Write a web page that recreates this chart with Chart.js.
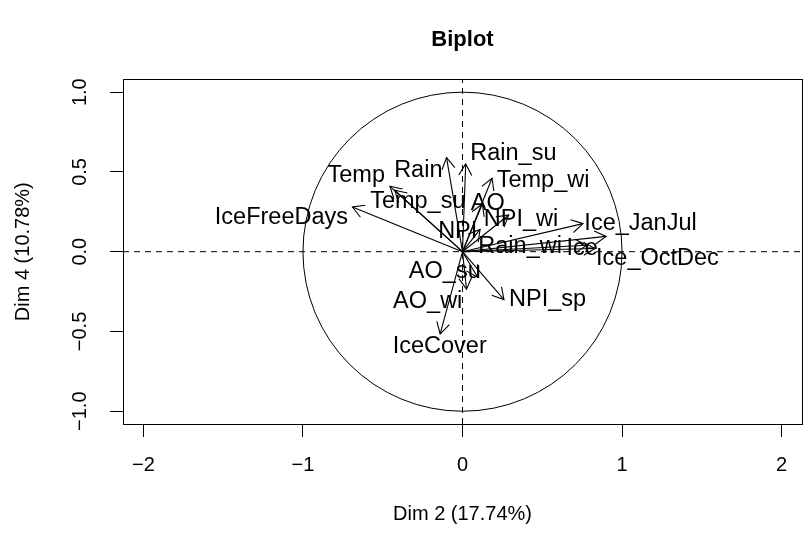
<!DOCTYPE html>
<html><head><meta charset="utf-8">
<script src="https://cdn.jsdelivr.net/npm/chart.js@4/dist/chart.umd.min.js"></script>
<style>html,body{margin:0;padding:0;background:#fff}#wrap{width:804px;height:542px}</style>
</head><body><div id="wrap"><canvas id="c" width="804" height="542"></canvas></div>
<script>
// ---- data ----
const varNames = ['IceFreeDays','Temp','Rain','Temp_su','Rain_su','Temp_wi','AO','NPI_wi','NPI',
  'Ice_JanJul','Rain_wi','Ice','Ice_OctDec','AO_su','AO_wi','NPI_sp','IceCover'];
const dim2 = [-0.69,-0.455,-0.10,-0.425,0.02,0.185,0.125,0.29,0.11,0.755,0.78,0.83,0.90,0.095,0.025,0.26,-0.14];
const dim4 = [0.28,0.41,0.59,0.385,0.55,0.46,0.30,0.23,0.14,0.176,0.04,0.02,0.096,-0.16,-0.235,-0.30,-0.515];
const labelX = [-1.135,-0.666,-0.277,-0.28,0.319,0.505,0.158,0.367,-0.03,1.116,0.361,0.75,1.222,-0.111,-0.218,0.533,-0.143];
const labelY = [0.221,0.485,0.516,0.322,0.625,0.458,0.311,0.213,0.134,0.186,0.04,0.027,-0.034,-0.117,-0.305,-0.293,-0.588];
const xTicks = [-2,-1,0,1,2];
const xTickLabels = ['\u22122','\u22121','0','1','2'];
const yTicks = [-1,-0.5,0,0.5,1];
const yTickLabels = ['\u22121.0','\u22120.5','0.0','0.5','1.0'];
const xLimits = [-2.128, 2.128];
const yLimits = [-1.08, 1.08];
const titleText = 'Biplot';
const xTitle = 'Dim 2 (17.74%)';
const yTitle = 'Dim 4 (10.78%)';

const FAM = '"Liberation Sans", Arial, Helvetica, sans-serif';

const datasets = [];
datasets.push({data:[{x:xLimits[0],y:0},{x:xLimits[1],y:0}], borderColor:'#000', borderWidth:1, borderDash:[6,5], pointRadius:0});
datasets.push({data:[{x:0,y:yLimits[0]},{x:0,y:yLimits[1]}], borderColor:'#000', borderWidth:1, borderDash:[6,5], pointRadius:0});
varNames.forEach((n,i)=>{
  datasets.push({label:n, isArrow:true, data:[{x:0,y:0},{x:dim2[i],y:dim4[i]}], borderColor:'#000', borderWidth:1.1, pointRadius:0});
});

const deco = {
  id:'deco',
  afterDatasetsDraw(chart){
    const ctx = chart.ctx, xs = chart.scales.x, ys = chart.scales.y, ca = chart.chartArea;
    ctx.save();
    ctx.strokeStyle = '#000'; ctx.lineWidth = 1;
    // unit circle
    ctx.save();
    ctx.beginPath(); ctx.rect(ca.left, ca.top, ca.right-ca.left, ca.bottom-ca.top); ctx.clip();
    const cx = xs.getPixelForValue(0), cy = ys.getPixelForValue(0);
    const r = xs.getPixelForValue(1) - cx;
    ctx.beginPath(); ctx.arc(cx, cy, r, 0, Math.PI*2); ctx.stroke();
    ctx.restore();
    // arrowheads
    ctx.lineWidth = 1.1;
    chart.data.datasets.forEach((ds, di)=>{
      if(!ds.isArrow) return;
      const pts = chart.getDatasetMeta(di).data;
      const x0 = pts[0].x, y0 = pts[0].y, x1 = pts[1].x, y1 = pts[1].y;
      const ang = Math.atan2(y1-y0, x1-x0), len = 13, a = Math.PI/6;
      ctx.beginPath();
      ctx.moveTo(x1 - len*Math.cos(ang-a), y1 - len*Math.sin(ang-a));
      ctx.lineTo(x1, y1);
      ctx.lineTo(x1 - len*Math.cos(ang+a), y1 - len*Math.sin(ang+a));
      ctx.stroke();
    });
    // labels
    ctx.fillStyle = '#000';
    ctx.font = '23.5px ' + FAM;
    ctx.textAlign = 'center'; ctx.textBaseline = 'middle';
    varNames.forEach((n,i)=>{
      ctx.fillText(n, xs.getPixelForValue(labelX[i]), ys.getPixelForValue(labelY[i]) + 1.5);
    });
    // box
    ctx.lineWidth = 1;
    ctx.strokeRect(Math.round(ca.left)+0.5, Math.round(ca.top)+0.5, Math.round(ca.right-ca.left), Math.round(ca.bottom-ca.top));
    ctx.restore();
  }
};

new Chart(document.getElementById('c'), {
  type:'line',
  data:{datasets},
  plugins:[deco],
  options:{
    responsive:false, devicePixelRatio:1, animation:false,
    layout:{padding:{left:0,right:2,top:0,bottom:0}},
    plugins:{
      legend:{display:false}, tooltip:{enabled:false},
      title:{display:true, text:titleText, fullSize:false, color:'#000',
        font:{family:FAM, size:22, weight:'bold'}, padding:{top:27,bottom:26}}
    },
    scales:{
      x:{type:'linear', position:'bottom', min:xLimits[0], max:xLimits[1],
        afterBuildTicks:s=>{ s.ticks = xTicks.map(v=>({value:v})); },
        afterFit:s=>{ s.height = 118; },
        grid:{display:true, drawOnChartArea:false, drawTicks:true, tickLength:13, tickColor:'#000', tickWidth:1},
        border:{display:false},
        ticks:{color:'#000', font:{family:FAM, size:20}, padding:16, autoSkip:false, maxRotation:0,
          callback:(v)=>{ const k = xTicks.indexOf(v); return k>=0 ? xTickLabels[k] : ''; }},
        title:{display:true, text:xTitle, color:'#000', font:{family:FAM, size:20}, padding:16}
      },
      y:{type:'linear', position:'left', min:yLimits[0], max:yLimits[1],
        afterBuildTicks:s=>{ s.ticks = yTicks.map(v=>({value:v})); },
        afterFit:s=>{ s.width = 123; },
        grid:{display:true, drawOnChartArea:false, drawTicks:true, tickLength:13, tickColor:'#000', tickWidth:1},
        border:{display:false},
        ticks:{color:'#000', font:{family:FAM, size:20}, padding:10, autoSkip:false, minRotation:90, maxRotation:90, crossAlign:'center',
          callback:(v)=>{ const k = yTicks.indexOf(v); return k>=0 ? yTickLabels[k] : ''; }},
        title:{display:true, text:yTitle, color:'#000', font:{family:FAM, size:20}, padding:11}
      }
    }
  }
});
</script></body></html>
